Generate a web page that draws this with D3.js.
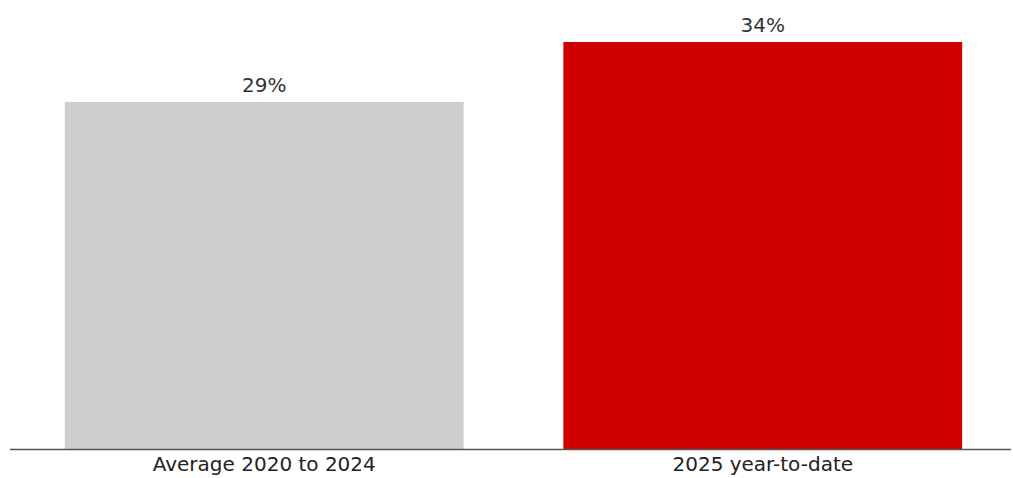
<!DOCTYPE html>
<html>
<head>
<meta charset="utf-8">
<script src="https://cdn.jsdelivr.net/npm/d3@7"></script>
<style>
  html, body { margin: 0; padding: 0; background: #fff; }
  svg { display: block; }
</style>
</head>
<body>
<svg id="chart" width="1013" height="478"></svg>
<script>
const categories = ["Average 2020 to 2024", "2025 year-to-date"];
const values = [29, 34];
const valueLabels = ["29%", "34%"];
const colors = ["#cfcfcf", "#cf0000"];

const svg = d3.select("#chart");
const W = 1013, H = 478;
const baseY = 449.5;

const x = d3.scaleBand()
  .domain(categories)
  .range([15, 1012])
  .paddingInner(0.2)
  .paddingOuter(0.1);

const y = d3.scaleLinear()
  .domain([0, 37.5])
  .range([baseY, 0]);

const data = categories.map((c, i) => ({ c, v: values[i], label: valueLabels[i], color: colors[i] }));

svg.selectAll("rect.bar")
  .data(data)
  .join("rect")
  .attr("class", "bar")
  .attr("x", d => x(d.c))
  .attr("width", x.bandwidth())
  .attr("y", d => y(d.v))
  .attr("height", d => y(0) - y(d.v))
  .attr("fill", d => d.color);

svg.selectAll("text.val")
  .data(data)
  .join("text")
  .attr("class", "val")
  .attr("x", d => x(d.c) + x.bandwidth() / 2)
  .attr("y", d => y(d.v) - 10)
  .attr("text-anchor", "middle")
  .attr("font-family", "'DejaVu Sans', sans-serif")
  .attr("font-size", 20)
  .attr("fill", "#333")
  .text(d => d.label);

// baseline axis
const axis = d3.axisBottom(x).tickSize(0).tickPadding(7);
const g = svg.append("g")
  .attr("transform", `translate(0,${baseY})`)
  .call(axis);
g.select(".domain").remove();
g.append("line")
  .attr("x1", 10).attr("x2", 1011)
  .attr("y1", 0).attr("y2", 0)
  .attr("stroke", "#555")
  .attr("stroke-width", 1.5);
g.selectAll(".tick text")
  .attr("font-family", "'DejaVu Sans', sans-serif")
  .attr("font-size", 20)
  .attr("fill", "#222");
</script>
</body>
</html>
